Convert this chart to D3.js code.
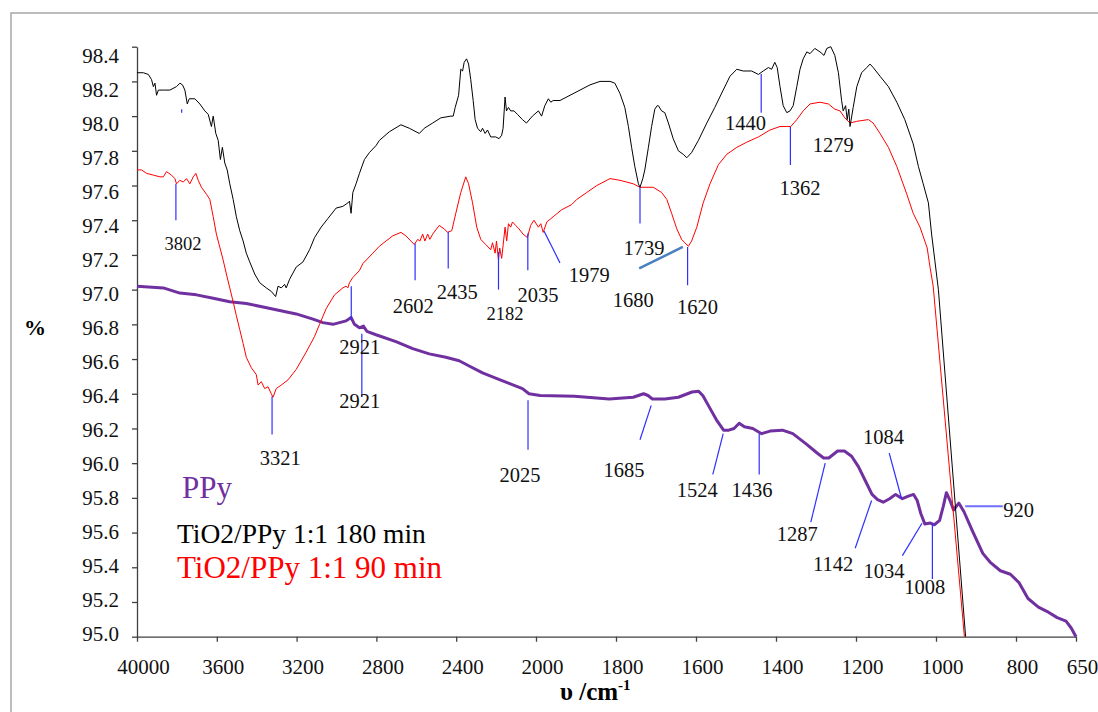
<!DOCTYPE html>
<html>
<head>
<meta charset="utf-8">
<script src="https://cdn.jsdelivr.net/npm/d3@7"></script>
<style>
    body { margin: 0; background: #ffffff; }
    svg text { font-family: "Liberation Serif", "Times New Roman", Times, "DejaVu Serif", serif; }
</style>
</head>
<body>
<div id="ftir_chart"></div>
<script>
// x axis ticks (wavenumber) and the labels printed under them
const tick_values = [4000, 3600, 3200, 2800, 2400, 2000, 1800, 1600, 1400, 1200, 1000, 800, 650];
const tick_labels = ["40000", "3600", "3200", "2800", "2400", "2000", "1800", "1600", "1400", "1200", "1000", "800", "650"];
const y_ticks = [95.0, 95.2, 95.4, 95.6, 95.8, 96.0, 96.2, 96.4, 96.6, 96.8, 97.0, 97.2, 97.4, 97.6, 97.8, 98.0, 98.2, 98.4];

const series_names = ["PPy", "TiO2/PPy 1:1 180 min", "TiO2/PPy 1:1 90 min"];

// spectra as [wavenumber, %]
const ppy = [[4000,97.02],[3868,97.01],[3785,96.98],[3702,96.97],[3618,96.95],[3535,96.93],[3452,96.92],[3368,96.90],[3285,96.88],[3202,96.86],[3118,96.83],[3068,96.81],[3018,96.80],[2985,96.81],[2952,96.82],[2927,96.84],[2910,96.80],[2885,96.78],[2865,96.79],[2848,96.76],[2802,96.74],[2702,96.70],[2618,96.66],[2535,96.63],[2452,96.61],[2385,96.59],[2335,96.56],[2268,96.52],[2202,96.49],[2135,96.46],[2068,96.43],[2035,96.40],[1990,96.39],[1904,96.385],[1817,96.37],[1757,96.38],[1731,96.40],[1720,96.39],[1709,96.37],[1678,96.37],[1644,96.38],[1610,96.41],[1594,96.415],[1583,96.39],[1566,96.32],[1549,96.25],[1531,96.19],[1518,96.19],[1505,96.20],[1492,96.23],[1479,96.21],[1458,96.20],[1436,96.17],[1415,96.185],[1384,96.19],[1358,96.17],[1324,96.11],[1298,96.06],[1281,96.03],[1268,96.03],[1246,96.07],[1229,96.07],[1211,96.04],[1194,95.98],[1177,95.90],[1160,95.82],[1146,95.79],[1132,95.775],[1116,95.795],[1101,95.82],[1084,95.795],[1069,95.81],[1056,95.82],[1047,95.785],[1038,95.71],[1028,95.65],[1014,95.655],[1004,95.645],[991,95.67],[982,95.75],[974,95.83],[965,95.785],[956,95.73],[943,95.77],[930,95.72],[909,95.61],[883,95.48],[865,95.43],[839,95.38],[814,95.36],[792,95.31],[770,95.22],[744,95.17],[718,95.14],[697,95.11],[675,95.09],[662,95.05],[650,95.0]];

const tio2_180 = [[4000,98.25],[3968,98.25],[3943,98.24],[3927,98.21],[3918,98.17],[3910,98.19],[3902,98.12],[3893,98.15],[3868,98.15],[3835,98.15],[3802,98.17],[3785,98.19],[3772,98.18],[3760,98.15],[3748,98.07],[3738,98.10],[3710,98.10],[3685,98.07],[3660,98.03],[3643,98.01],[3627,97.94],[3618,98.00],[3605,97.90],[3593,97.86],[3582,97.75],[3572,97.82],[3560,97.73],[3548,97.69],[3535,97.61],[3518,97.52],[3502,97.42],[3485,97.34],[3468,97.28],[3452,97.21],[3435,97.16],[3410,97.09],[3385,97.04],[3352,97.01],[3327,96.99],[3305,96.96],[3293,97.02],[3277,97.01],[3260,97.03],[3252,97.01],[3235,97.06],[3202,97.13],[3168,97.16],[3135,97.23],[3110,97.30],[3077,97.36],[3043,97.41],[3002,97.47],[2968,97.48],[2943,97.50],[2935,97.51],[2927,97.44],[2918,97.56],[2902,97.61],[2885,97.67],[2860,97.75],[2835,97.79],[2802,97.83],[2785,97.86],[2735,97.91],[2677,97.95],[2635,97.93],[2585,97.90],[2560,97.93],[2518,97.96],[2477,97.99],[2427,98.00],[2415,98.00],[2405,98.05],[2388,98.12],[2377,98.27],[2368,98.26],[2360,98.31],[2348,98.33],[2338,98.30],[2327,98.21],[2315,98.09],[2305,97.98],[2293,97.93],[2277,97.91],[2268,97.93],[2255,97.90],[2243,97.92],[2227,97.88],[2202,97.88],[2185,97.87],[2172,97.89],[2165,97.93],[2155,98.11],[2148,98.03],[2138,98.05],[2127,98.03],[2110,98.03],[2093,98.01],[2068,97.98],[2048,97.96],[2018,98.00],[1994,98.03],[1986,98.00],[1978,98.06],[1969,98.10],[1963,98.08],[1957,98.09],[1940,98.09],[1915,98.12],[1890,98.15],[1865,98.18],[1840,98.20],[1815,98.20],[1803,98.19],[1790,98.13],[1778,98.05],[1769,97.94],[1761,97.82],[1753,97.71],[1744,97.61],[1740,97.59],[1733,97.64],[1728,97.69],[1719,97.82],[1711,97.94],[1703,98.04],[1697,98.06],[1694,98.06],[1686,98.03],[1678,98.02],[1669,97.96],[1657,97.87],[1644,97.80],[1632,97.78],[1623,97.76],[1611,97.79],[1594,97.86],[1573,97.96],[1553,98.05],[1532,98.15],[1515,98.23],[1498,98.27],[1482,98.26],[1461,98.26],[1444,98.24],[1432,98.26],[1419,98.28],[1411,98.27],[1403,98.31],[1397,98.28],[1390,98.17],[1382,98.06],[1373,98.02],[1365,98.03],[1357,98.06],[1348,98.17],[1340,98.27],[1332,98.33],[1323,98.37],[1315,98.36],[1303,98.39],[1290,98.37],[1280,98.35],[1273,98.39],[1263,98.40],[1253,98.35],[1244,98.25],[1236,98.09],[1232,98.03],[1226,98.06],[1222,97.98],[1218,98.04],[1215,97.94],[1207,98.05],[1198,98.17],[1186,98.25],[1173,98.28],[1165,98.30],[1157,98.28],[1140,98.23],[1119,98.17],[1098,98.08],[1078,97.98],[1057,97.84],[1044,97.71],[1032,97.61],[1019,97.50],[1011,97.32],[1003,97.17],[994,97.00],[926,95.00]];

const tio2_90 = [[4000,97.69],[3977,97.69],[3952,97.67],[3918,97.66],[3885,97.65],[3868,97.65],[3852,97.68],[3827,97.66],[3810,97.64],[3802,97.61],[3785,97.63],[3768,97.62],[3752,97.64],[3735,97.61],[3718,97.65],[3705,97.67],[3693,97.63],[3677,97.59],[3652,97.55],[3635,97.52],[3618,97.42],[3602,97.32],[3585,97.245],[3568,97.17],[3552,97.09],[3535,97.01],[3518,96.93],[3502,96.85],[3485,96.77],[3468,96.69],[3452,96.61],[3427,96.55],[3402,96.51],[3393,96.45],[3377,96.47],[3360,96.43],[3343,96.44],[3327,96.40],[3318,96.38],[3302,96.43],[3277,96.45],[3243,96.48],[3202,96.54],[3152,96.64],[3110,96.73],[3085,96.80],[3052,96.89],[3010,96.97],[2968,97.01],[2952,97.02],[2943,97.01],[2935,97.04],[2918,97.07],[2885,97.11],[2868,97.15],[2818,97.21],[2785,97.25],[2752,97.28],[2718,97.31],[2677,97.33],[2652,97.31],[2627,97.28],[2610,97.26],[2593,97.29],[2582,97.28],[2568,97.32],[2557,97.28],[2543,97.32],[2532,97.29],[2518,97.32],[2485,97.37],[2460,97.35],[2443,97.33],[2422,97.34],[2402,97.44],[2377,97.56],[2352,97.65],[2338,97.61],[2318,97.50],[2297,97.36],[2277,97.29],[2252,97.26],[2227,97.23],[2218,97.27],[2205,97.21],[2198,97.28],[2188,97.17],[2182,97.24],[2172,97.18],[2155,97.36],[2147,97.28],[2138,97.38],[2127,97.36],[2118,97.39],[2102,97.37],[2085,97.35],[2065,97.32],[2043,97.30],[2027,97.37],[2010,97.40],[1994,97.36],[1988,97.38],[1982,97.33],[1973,97.39],[1957,97.42],[1936,97.46],[1911,97.49],[1898,97.52],[1873,97.56],[1848,97.60],[1815,97.64],[1790,97.63],[1757,97.61],[1740,97.59],[1707,97.59],[1686,97.56],[1673,97.52],[1661,97.44],[1648,97.35],[1636,97.29],[1628,97.27],[1619,97.25],[1611,97.28],[1598,97.36],[1582,97.50],[1565,97.61],[1544,97.72],[1523,97.78],[1498,97.82],[1473,97.85],[1444,97.88],[1415,97.92],[1390,97.94],[1373,97.94],[1363,97.94],[1348,97.98],[1332,98.03],[1315,98.07],[1290,98.08],[1269,98.07],[1253,98.04],[1240,98.03],[1228,97.99],[1215,97.96],[1198,97.97],[1169,97.98],[1157,97.96],[1140,97.90],[1119,97.82],[1098,97.71],[1073,97.55],[1057,97.44],[1040,97.36],[1028,97.28],[1022,97.24],[1015,97.13],[1007,97.02],[929,95.00]];

// peak markers: label, leader line ends (x1,y1)-(x2,y2) and label anchor (lx,ly), all in data units
const peak_marks = [
    {label: "3802", x1: 3805, y1: 97.61, x2: 3805, y2: 97.40, lx: 3770, ly: 97.23},
    {label: "", x1: 3776, y1: 98.04, x2: 3776, y2: 98.02, lx: 3776, ly: 98.02},
    {label: "3321", x1: 3323, y1: 96.385, x2: 3323, y2: 96.165, lx: 3282, ly: 95.987},
    {label: "2921", x1: 2926, y1: 97.02, x2: 2926, y2: 96.823, lx: 2883, ly: 96.631},
    {label: "2921", x1: 2873, y1: 96.746, x2: 2873, y2: 96.381, lx: 2883, ly: 96.317},
    {label: "2602", x1: 2606, y1: 97.266, x2: 2606, y2: 97.054, lx: 2615, ly: 96.864},
    {label: "2435", x1: 2440, y1: 97.333, x2: 2440, y2: 97.122, lx: 2395, ly: 96.948},
    {label: "2182", x1: 2188, y1: 97.217, x2: 2188, y2: 97.0, lx: 2155, ly: 96.823},
    {label: "2035", x1: 2041, y1: 97.323, x2: 2041, y2: 97.112, lx: 1995, ly: 96.929},
    {label: "1979", x1: 1980, y1: 97.338, x2: 1940, y2: 97.154, lx: 1867, ly: 97.044},
    {label: "1739", x1: 1740, y1: 97.592, x2: 1740, y2: 97.381, lx: 1730, ly: 97.198},
    {label: "1680", x1: 1742, y1: 97.122, x2: 1633, y2: 97.246, lx: 1757, ly: 96.90},
    {label: "1620", x1: 1621, y1: 97.246, x2: 1621, y2: 97.025, lx: 1596, ly: 96.862},
    {label: "1440", x1: 1437, y1: 98.243, x2: 1437, y2: 98.019, lx: 1476, ly: 97.919},
    {label: "1362", x1: 1364, y1: 97.938, x2: 1364, y2: 97.718, lx: 1340, ly: 97.544},
    {label: "1279", x1: null, y1: null, x2: null, y2: null, lx: 1257, ly: 97.791},
    {label: "2025", x1: 2040, y1: 96.362, x2: 2040, y2: 96.077, lx: 2080, ly: 95.894},
    {label: "1685", x1: 1712, y1: 96.333, x2: 1740, y2: 96.135, lx: 1780, ly: 95.919},
    {label: "1524", x1: 1532, y1: 96.17, x2: 1558, y2: 95.935, lx: 1597, ly: 95.804},
    {label: "1436", x1: 1442, y1: 96.17, x2: 1442, y2: 95.935, lx: 1460, ly: 95.804},
    {label: "1287", x1: 1277, y1: 96.0, x2: 1313, y2: 95.66, lx: 1347, ly: 95.55},
    {label: "1142", x1: 1161, y1: 95.785, x2: 1202, y2: 95.51, lx: 1257, ly: 95.381},
    {label: "1084", x1: 1086, y1: 95.795, x2: 1117, y2: 96.058, lx: 1131, ly: 96.108},
    {label: "1034", x1: 1035, y1: 95.654, x2: 1084, y2: 95.467, lx: 1130, ly: 95.339},
    {label: "1008", x1: 1009, y1: 95.654, x2: 1009, y2: 95.333, lx: 1028, ly: 95.246},
    {label: "920", x1: 927, y1: 95.752, x2: 833, y2: 95.752, lx: 832, ly: 95.688}
];

class Ftir_Chart {
    constructor(parent_element) {
        this.parent_element = parent_element;
        this.width = 1098;
        this.height = 712;
        this.font = "Liberation Serif, Times New Roman, Times, DejaVu Serif, serif";

        this.initVis();
    }

    initVis() {
        this.svg = d3.select("#" + this.parent_element)
            .append("svg")
            .attr("width", this.width)
            .attr("height", this.height)
            .style("font-family", this.font);

        // grey frame round the chart area
        this.svg.append("path")
            .attr("d", "M11,712 V13 H1098")
            .attr("fill", "none")
            .attr("stroke", "#a6a6a6")
            .attr("stroke-width", 1.5);

        // wavenumber axis is broken at 2000: twice the scale below it
        this.x = d3.scaleLinear()
            .domain([4000, 2000, 650])
            .range([137, 536, 1076]);

        this.y = d3.scaleLinear()
            .domain([95.0, 98.4])
            .range([636.7, 46.7]);

        // excel drew the y labels on a slightly tighter spacing than the ticks
        this.y_label = d3.scaleLinear()
            .domain([95.0, 98.4])
            .range([634, 56]);

        this.updateVis();
    }

    updateVis() {
        let vis = this;

        // axes
        let x_axis = this.svg.append("g")
            .attr("transform", "translate(0," + this.y(95.0) + ")")
            .call(d3.axisBottom(this.x)
                .tickValues(tick_values)
                .tickFormat((d, i) => tick_labels[i])
                .tickSize(5)
                .tickSizeOuter(0)
                .tickPadding(17));

        let y_axis = this.svg.append("g")
            .attr("transform", "translate(" + this.x(4000) + ",0)")
            .call(d3.axisLeft(this.y)
                .tickValues(y_ticks)
                .tickFormat(d3.format(".1f"))
                .tickSize(5)
                .tickSizeOuter(0)
                .tickPadding(13));

        [x_axis, y_axis].forEach(axis => {
            axis.attr("font-family", null).attr("font-size", 21);
            axis.select(".domain").attr("stroke", "#404040").attr("stroke-width", 1.3);
            axis.selectAll(".tick line").attr("stroke", "#404040").attr("stroke-width", 1.3);
            axis.selectAll(".tick text").attr("fill", "#111");
        });

        x_axis.selectAll(".tick text").attr("x", 6);
        y_axis.selectAll(".tick text").attr("y", d => vis.y_label(d) - vis.y(d));

        // axis titles
        this.svg.append("text")
            .attr("x", 35)
            .attr("y", 335)
            .attr("text-anchor", "middle")
            .attr("font-weight", "bold")
            .attr("font-size", 22)
            .text("%");

        let x_title = this.svg.append("text")
            .attr("x", 560)
            .attr("y", 700)
            .attr("font-weight", "bold")
            .attr("font-size", 25);
        x_title.append("tspan").text("υ /cm");
        x_title.append("tspan")
            .attr("dy", -10)
            .attr("font-size", 15)
            .text("-1");

        // spectra
        let line = d3.line()
            .x(d => vis.x(d[0]))
            .y(d => vis.y(d[1]));

        this.svg.append("path")
            .datum(ppy)
            .attr("d", line)
            .attr("fill", "none")
            .attr("stroke", "#7030a0")
            .attr("stroke-width", 3)
            .attr("stroke-linejoin", "round");

        this.svg.append("path")
            .datum(tio2_90)
            .attr("d", line)
            .attr("fill", "none")
            .attr("stroke", "#ff0000")
            .attr("stroke-width", 1);

        this.svg.append("path")
            .datum(tio2_180)
            .attr("d", line)
            .attr("fill", "none")
            .attr("stroke", "#000000")
            .attr("stroke-width", 1);

        // peak leader lines
        this.svg.append("g")
            .selectAll("line")
            .data(peak_marks.filter(d => d.x1 !== null))
            .join("line")
            .attr("x1", d => vis.x(d.x1))
            .attr("y1", d => vis.y(d.y1))
            .attr("x2", d => vis.x(d.x2))
            .attr("y2", d => vis.y(d.y2))
            .attr("stroke", d => d.label == "1680" ? "#4a7fc0" : (d.label == "920" ? "#7070ff" : "#2f2fff"))
            .attr("stroke-width", d => d.label == "1680" ? 2.5 : (d.label == "920" ? 2 : 1.2));

        // peak labels
        this.svg.append("g")
            .selectAll("text")
            .data(peak_marks.filter(d => d.label != ""))
            .join("text")
            .attr("x", d => vis.x(d.lx))
            .attr("y", d => vis.y(d.ly))
            .attr("text-anchor", d => d.label == "920" ? "start" : "middle")
            .attr("font-size", d => (d.label == "3802" || d.label == "2182") ? 18.5 : 20.5)
            .attr("fill", "#111")
            .text(d => d.label);

        // legend text
        let legend = [
            {name: series_names[0], y: 498, size: 31, color: "#7030a0", x: 182},
            {name: series_names[1], y: 543, size: 27.5, color: "#000000", x: 177},
            {name: series_names[2], y: 578, size: 31, color: "#ff0000", x: 177}
        ];

        this.svg.append("g")
            .selectAll("text")
            .data(legend)
            .join("text")
            .attr("x", d => d.x)
            .attr("y", d => d.y)
            .attr("font-size", d => d.size)
            .attr("fill", d => d.color)
            .text(d => d.name);
    }
}

new Ftir_Chart("ftir_chart");
</script>
</body>
</html>
